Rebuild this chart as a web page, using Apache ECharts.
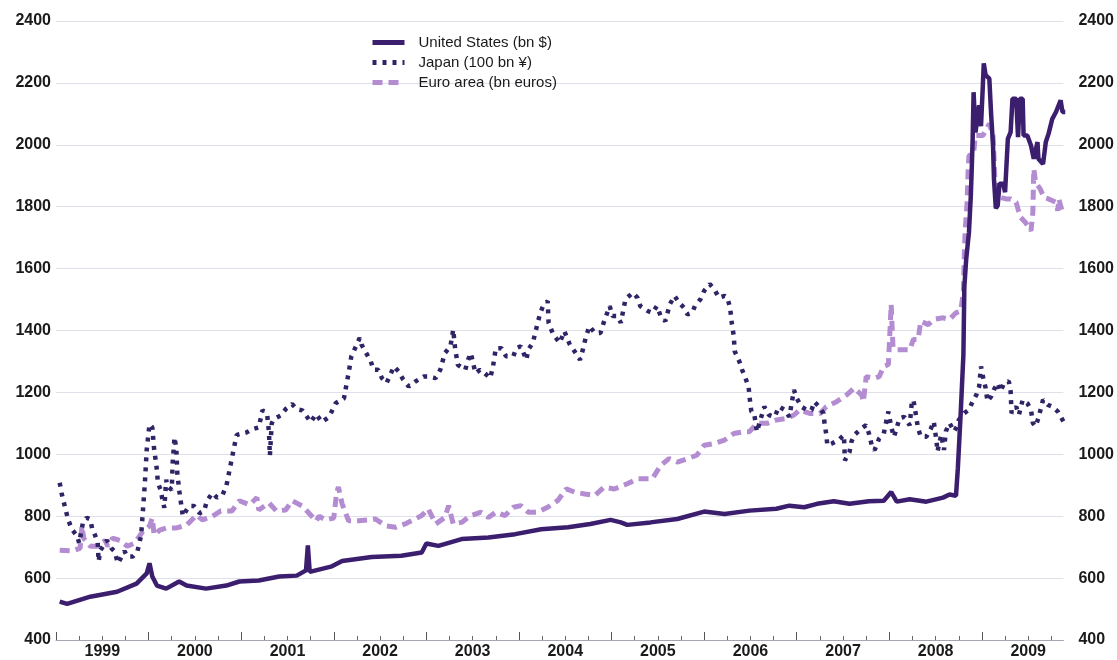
<!DOCTYPE html>
<html>
<head>
<meta charset="utf-8">
<script src="https://cdn.jsdelivr.net/npm/echarts@6/dist/echarts.min.js"></script>
<style>
  html, body { margin: 0; padding: 0; background: #fff; }
  #chart { width: 1117px; height: 660px; }
</style>
</head>
<body>
<div id="chart"></div>
<script>
// x = decimal year, y = value
var yearLabels = ['1999', '2000', '2001', '2002', '2003', '2004', '2005', '2006', '2007', '2008', '2009'];
var yTicks = [400, 600, 800, 1000, 1200, 1400, 1600, 1800, 2000, 2200, 2400];

var usData = [
  [1999.04, 524], [1999.12, 517], [1999.37, 540], [1999.66, 556], [1999.87, 582], [1999.98, 615],
  [2000.01, 648], [2000.04, 605], [2000.09, 576], [2000.19, 566], [2000.33, 589], [2000.41, 576],
  [2000.62, 566], [2000.84, 576], [2000.98, 589], [2001.19, 592], [2001.41, 605], [2001.60, 608],
  [2001.70, 625], [2001.72, 706], [2001.74, 620], [2001.98, 638], [2002.09, 655], [2002.41, 668],
  [2002.73, 672], [2002.95, 683], [2003.00, 712], [2003.13, 704], [2003.38, 726], [2003.67, 731],
  [2003.96, 742], [2004.24, 758], [2004.53, 764], [2004.77, 775], [2004.99, 788], [2005.10, 780],
  [2005.17, 772], [2005.42, 780], [2005.71, 791], [2006.00, 815], [2006.22, 807], [2006.49, 818],
  [2006.78, 824], [2006.92, 834], [2007.08, 829], [2007.22, 840], [2007.40, 848], [2007.57, 840],
  [2007.78, 848], [2007.94, 850], [2008.02, 878], [2008.08, 847], [2008.22, 855], [2008.40, 847],
  [2008.58, 860], [2008.65, 870], [2008.72, 866], [2008.74, 955], [2008.77, 1128], [2008.80, 1322],
  [2008.81, 1540], [2008.83, 1630], [2008.86, 1717], [2008.88, 1836], [2008.89, 1922], [2008.90, 2019],
  [2008.91, 2170], [2008.93, 2040], [2008.97, 2128], [2008.99, 2060], [2009.01, 2192], [2009.02, 2263],
  [2009.04, 2225], [2009.08, 2214], [2009.10, 2095], [2009.12, 1998], [2009.13, 1890], [2009.15, 1795],
  [2009.17, 1803], [2009.19, 1874], [2009.23, 1874], [2009.25, 1847], [2009.28, 2019], [2009.31, 2041],
  [2009.33, 2149], [2009.37, 2149], [2009.39, 2025], [2009.41, 2149], [2009.44, 2149], [2009.45, 2030],
  [2009.49, 2030], [2009.53, 1998], [2009.56, 1955], [2009.60, 2009], [2009.61, 1955], [2009.66, 1938],
  [2009.69, 2009], [2009.72, 2036], [2009.76, 2084], [2009.80, 2106], [2009.85, 2144], [2009.87, 2106],
  [2009.90, 2106]
];

var japanData = [
  [1999.04, 908], [1999.06, 875], [1999.08, 850], [1999.13, 790], [1999.17, 758], [1999.23, 735],
  [1999.25, 713], [1999.29, 778], [1999.33, 795], [1999.37, 790], [1999.39, 760], [1999.42, 740],
  [1999.45, 716], [1999.46, 654], [1999.48, 690], [1999.55, 722], [1999.60, 696], [1999.63, 687],
  [1999.67, 648], [1999.71, 670], [1999.74, 687], [1999.77, 670], [1999.83, 670], [1999.88, 687],
  [1999.92, 739], [1999.96, 908], [1999.98, 1016], [2000.01, 1097], [2000.04, 1087], [2000.06, 1016],
  [2000.09, 950], [2000.10, 908], [2000.13, 885], [2000.15, 853], [2000.17, 827], [2000.19, 918],
  [2000.20, 898], [2000.25, 885], [2000.26, 973], [2000.28, 1055], [2000.30, 1016], [2000.31, 940],
  [2000.33, 885], [2000.37, 800], [2000.41, 820], [2000.44, 833], [2000.49, 833], [2000.55, 810],
  [2000.60, 817], [2000.63, 850], [2000.69, 875], [2000.74, 860], [2000.80, 870], [2000.84, 898],
  [2000.89, 973], [2000.95, 1062], [2000.98, 1065], [2001.06, 1071], [2001.12, 1081], [2001.19, 1087],
  [2001.23, 1142], [2001.28, 1130], [2001.30, 1071], [2001.31, 996], [2001.33, 1100], [2001.35, 1113],
  [2001.43, 1126], [2001.48, 1146], [2001.55, 1162], [2001.60, 1146], [2001.66, 1142], [2001.70, 1126],
  [2001.75, 1104], [2001.81, 1130], [2001.87, 1104], [2001.95, 1121], [2002.02, 1165], [2002.11, 1181],
  [2002.13, 1214], [2002.16, 1262], [2002.19, 1317], [2002.24, 1349], [2002.28, 1376], [2002.30, 1354],
  [2002.34, 1333], [2002.40, 1300], [2002.43, 1273], [2002.48, 1273], [2002.52, 1246], [2002.57, 1230],
  [2002.61, 1257], [2002.65, 1284], [2002.70, 1268], [2002.75, 1241], [2002.81, 1219], [2002.88, 1235],
  [2002.97, 1251], [2003.02, 1251], [2003.10, 1246], [2003.15, 1273], [2003.20, 1327], [2003.26, 1349],
  [2003.29, 1403], [2003.31, 1343], [2003.34, 1289], [2003.42, 1273], [2003.45, 1305], [2003.48, 1327],
  [2003.53, 1262], [2003.58, 1273], [2003.63, 1262], [2003.69, 1246], [2003.72, 1284], [2003.75, 1343],
  [2003.81, 1343], [2003.86, 1317], [2003.94, 1317], [2003.97, 1343], [2004.02, 1349], [2004.08, 1305],
  [2004.10, 1338], [2004.15, 1360], [2004.18, 1398], [2004.23, 1457], [2004.26, 1479], [2004.31, 1495],
  [2004.32, 1425], [2004.37, 1387], [2004.44, 1360], [2004.49, 1398], [2004.55, 1354], [2004.60, 1333],
  [2004.66, 1305], [2004.69, 1338], [2004.72, 1376], [2004.76, 1414], [2004.82, 1392], [2004.88, 1392],
  [2004.92, 1430], [2004.98, 1479], [2005.01, 1447], [2005.06, 1447], [2005.10, 1425], [2005.15, 1501],
  [2005.23, 1522], [2005.28, 1506], [2005.31, 1479], [2005.39, 1463], [2005.44, 1457], [2005.49, 1479],
  [2005.53, 1447], [2005.58, 1430], [2005.63, 1485], [2005.68, 1512], [2005.73, 1490], [2005.78, 1474],
  [2005.82, 1452], [2005.87, 1457], [2005.90, 1479], [2005.96, 1501], [2006.00, 1528], [2006.06, 1550],
  [2006.11, 1533], [2006.16, 1506], [2006.22, 1512], [2006.25, 1506], [2006.28, 1474], [2006.30, 1420],
  [2006.32, 1382], [2006.33, 1333], [2006.38, 1300], [2006.41, 1273], [2006.44, 1251], [2006.48, 1219],
  [2006.49, 1186], [2006.51, 1138], [2006.54, 1132], [2006.57, 1073], [2006.65, 1154], [2006.70, 1127],
  [2006.76, 1121], [2006.81, 1154], [2006.87, 1143], [2006.92, 1121], [2006.97, 1208], [2007.00, 1181],
  [2007.05, 1154], [2007.11, 1143], [2007.16, 1143], [2007.19, 1170], [2007.24, 1154], [2007.29, 1132],
  [2007.30, 1100], [2007.32, 1062], [2007.33, 1029], [2007.38, 1035], [2007.45, 1046], [2007.51, 1062],
  [2007.52, 980], [2007.57, 1008], [2007.59, 1040], [2007.62, 1062], [2007.70, 1084], [2007.75, 1094],
  [2007.78, 1067], [2007.81, 1029], [2007.84, 1013], [2007.89, 1051], [2007.94, 1067], [2007.97, 1111],
  [2007.99, 1138], [2008.02, 1089], [2008.05, 1056], [2008.11, 1116], [2008.16, 1121], [2008.22, 1094],
  [2008.24, 1159], [2008.26, 1176], [2008.29, 1122], [2008.31, 1084], [2008.34, 1057], [2008.40, 1057],
  [2008.45, 1084], [2008.48, 1106], [2008.51, 1041], [2008.52, 1009], [2008.56, 1063], [2008.59, 1014],
  [2008.61, 1074], [2008.65, 1101], [2008.70, 1074], [2008.74, 1095], [2008.75, 1111], [2008.81, 1133],
  [2008.86, 1144], [2008.90, 1171], [2008.94, 1192], [2008.97, 1219], [2008.99, 1284], [2009.01, 1252],
  [2009.04, 1214], [2009.06, 1171], [2009.10, 1187], [2009.13, 1209], [2009.17, 1230], [2009.20, 1203],
  [2009.24, 1230], [2009.29, 1236], [2009.31, 1203], [2009.32, 1133], [2009.37, 1154], [2009.40, 1128],
  [2009.44, 1176], [2009.49, 1165], [2009.53, 1144], [2009.55, 1101], [2009.58, 1090], [2009.61, 1117],
  [2009.66, 1176], [2009.71, 1160], [2009.76, 1154], [2009.82, 1138], [2009.85, 1122], [2009.88, 1106]
];

var euroData = [
  [1999.04, 690], [1999.17, 688], [1999.26, 696], [1999.28, 768], [1999.30, 728], [1999.37, 703],
  [1999.45, 703], [1999.53, 722], [1999.56, 703], [1999.61, 729], [1999.69, 722], [1999.77, 703],
  [1999.85, 713], [1999.90, 735], [1999.94, 752], [2000.01, 768], [2000.04, 794], [2000.06, 739],
  [2000.12, 755], [2000.19, 762], [2000.30, 762], [2000.41, 771], [2000.52, 804], [2000.58, 788],
  [2000.69, 800], [2000.78, 817], [2000.90, 817], [2000.98, 850], [2001.09, 837], [2001.17, 860],
  [2001.19, 820], [2001.30, 843], [2001.38, 817], [2001.48, 820], [2001.55, 850], [2001.66, 833],
  [2001.75, 804], [2001.81, 784], [2001.84, 800], [2001.91, 788], [2002.00, 794], [2002.03, 875],
  [2002.05, 894], [2002.09, 840], [2002.16, 785], [2002.27, 785], [2002.45, 791], [2002.56, 769],
  [2002.67, 764], [2002.77, 775], [2002.88, 791], [2002.95, 802], [2003.02, 824], [2003.10, 775],
  [2003.20, 796], [2003.24, 834], [2003.29, 775], [2003.38, 780], [2003.48, 802], [2003.59, 813],
  [2003.67, 796], [2003.75, 813], [2003.85, 802], [2003.94, 829], [2004.02, 834], [2004.10, 813],
  [2004.20, 813], [2004.31, 829], [2004.42, 851], [2004.51, 888], [2004.60, 878], [2004.71, 872],
  [2004.82, 867], [2004.92, 894], [2005.03, 888], [2005.17, 905], [2005.28, 921], [2005.44, 921],
  [2005.53, 964], [2005.62, 986], [2005.71, 975], [2005.82, 986], [2005.92, 997], [2006.00, 1029],
  [2006.11, 1035], [2006.22, 1046], [2006.32, 1067], [2006.43, 1073], [2006.49, 1073], [2006.57, 1100],
  [2006.68, 1100], [2006.78, 1111], [2006.89, 1116], [2006.97, 1127], [2007.03, 1143], [2007.14, 1132],
  [2007.25, 1132], [2007.32, 1154], [2007.43, 1170], [2007.54, 1192], [2007.62, 1214], [2007.70, 1192],
  [2007.72, 1170], [2007.75, 1251], [2007.84, 1246], [2007.89, 1251], [2007.94, 1284], [2007.99, 1290],
  [2008.02, 1484], [2008.03, 1409], [2008.04, 1344], [2008.08, 1338], [2008.16, 1338], [2008.22, 1338],
  [2008.26, 1371], [2008.31, 1371], [2008.34, 1430], [2008.42, 1419], [2008.48, 1436], [2008.58, 1441],
  [2008.65, 1436], [2008.72, 1457], [2008.77, 1463], [2008.80, 1522], [2008.81, 1652], [2008.82, 1728],
  [2008.84, 1814], [2008.85, 1911], [2008.86, 1965], [2008.91, 1971], [2008.93, 2030], [2009.01, 2030],
  [2009.08, 2068], [2009.12, 2030], [2009.13, 1965], [2009.14, 1890], [2009.17, 1847], [2009.20, 1830],
  [2009.26, 1825], [2009.31, 1825], [2009.37, 1814], [2009.39, 1792], [2009.42, 1765], [2009.47, 1749],
  [2009.53, 1722], [2009.55, 1782], [2009.56, 1922], [2009.58, 1879], [2009.63, 1857], [2009.67, 1830],
  [2009.72, 1825], [2009.80, 1814], [2009.82, 1787], [2009.83, 1825], [2009.87, 1782]
];

var font = "'Liberation Sans', Arial, sans-serif";
var xMin = 1999, xMax = 2009.88;
var usColor = '#3c1e6e', jpColor = '#2f2466', euColor = '#b48cd2';

var quarterTicks = [];
for (var q = xMin; q <= xMax; q += 0.25) quarterTicks.push(q);
var yearTicks = [];
var labelPos = [];
yearLabels.forEach(function (y) {
  yearTicks.push(+y);
  labelPos.push(+y + 0.5);
});

var chart = echarts.init(document.getElementById('chart'));
chart.setOption({
  backgroundColor: '#fff',
  animation: false,
  grid: { left: 56, right: 49, top: 21, bottom: 20, containLabel: false },
  legend: {
    orient: 'vertical',
    left: 365,
    top: 30,
    itemWidth: 32,
    itemHeight: 14,
    itemGap: 5,
    itemStyle: { opacity: 0 },
    textStyle: { fontFamily: font, fontSize: 15, color: '#1a1a1a', padding: [0, 0, 0, 9] },
    data: [
      { name: 'United States (bn $)', lineStyle: { width: 5 } },
      { name: 'Japan (100 bn ¥)', lineStyle: { width: 5 } },
      { name: 'Euro area (bn euros)', lineStyle: { width: 5 } }
    ]
  },
  xAxis: [
    {
      type: 'value', min: xMin, max: xMax,
      axisLine: { show: true, lineStyle: { color: '#a4a4b4', width: 1 } },
      axisTick: { show: true, inside: true, length: 4, customValues: quarterTicks, lineStyle: { color: '#666' } },
      axisLabel: {
        customValues: labelPos, margin: 4,
        fontFamily: font, fontSize: 16, fontWeight: 'bold', color: '#1a1a1a',
        formatter: function (v) { return String(Math.floor(v)); }
      },
      splitLine: { show: false }
    },
    {
      type: 'value', min: xMin, max: xMax, position: 'bottom',
      axisLine: { show: false },
      axisTick: { show: true, inside: true, length: 8, customValues: yearTicks, lineStyle: { color: '#555' } },
      axisLabel: { show: false },
      splitLine: { show: false }
    }
  ],
  yAxis: [
    {
      type: 'value', min: yTicks[0], max: yTicks[yTicks.length - 1], interval: 200,
      axisLine: { show: false }, axisTick: { show: false },
      axisLabel: {
        margin: 5, fontFamily: font, fontSize: 16, fontWeight: 'bold', color: '#1a1a1a',
        formatter: function (v) { return String(v); }
      },
      splitLine: { lineStyle: { color: '#e0e0ea', width: 1 } }
    },
    {
      type: 'value', min: yTicks[0], max: yTicks[yTicks.length - 1], interval: 200, position: 'right',
      axisLine: { show: false }, axisTick: { show: false },
      axisLabel: {
        margin: 15, fontFamily: font, fontSize: 16, fontWeight: 'bold', color: '#1a1a1a',
        formatter: function (v) { return String(v); }
      },
      splitLine: { show: false }
    }
  ],
  series: [
    {
      name: 'Euro area (bn euros)', type: 'line', data: euroData, z: 2,
      showSymbol: false, symbol: 'none',
      lineStyle: { color: euColor, width: 5, type: [10, 6], cap: 'butt' },
      itemStyle: { color: euColor }
    },
    {
      name: 'Japan (100 bn ¥)', type: 'line', data: japanData, z: 3,
      showSymbol: false, symbol: 'none',
      lineStyle: { color: jpColor, width: 4.5, type: [4, 6], cap: 'butt' },
      itemStyle: { color: jpColor }
    },
    {
      name: 'United States (bn $)', type: 'line', data: usData, z: 4,
      showSymbol: false, symbol: 'none',
      lineStyle: { color: usColor, width: 4.5 },
      itemStyle: { color: usColor }
    }
  ]
});
</script>
</body>
</html>
